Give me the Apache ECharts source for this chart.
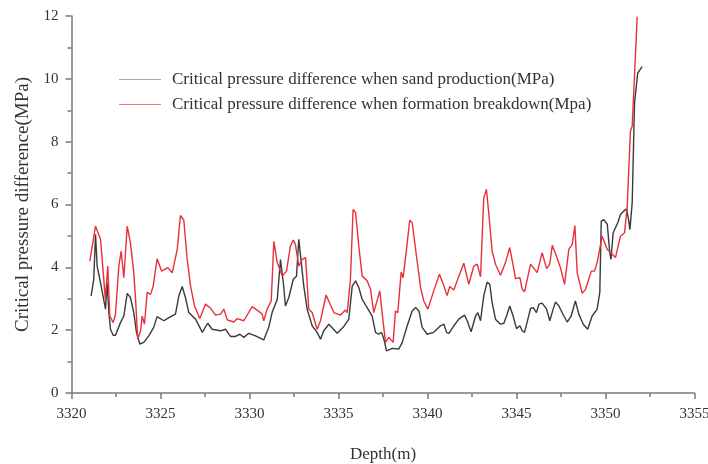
<!DOCTYPE html>
<html>
<head>
<meta charset="utf-8">
<script src="https://cdn.jsdelivr.net/npm/echarts@6/dist/echarts.min.js"></script>
<style>
  html, body { margin: 0; padding: 0; background: #fff; }
  #chart { width: 708px; height: 464px; }
</style>
</head>
<body>
<div id="chart"></div>
<script>
// 数据：深度 (m) 与临界压差 (MPa)
const sandDepth = [
  3321.1, 3321.25, 3321.35, 3321.44, 3321.63, 3321.91, 3322.0, 3322.1, 3322.19, 3322.34,
  3322.47, 3322.75, 3322.94, 3323.13, 3323.31, 3323.5, 3323.65, 3323.84, 3324.06, 3324.34,
  3324.62, 3324.81, 3325.19, 3325.47, 3325.84, 3326.03, 3326.22, 3326.4, 3326.59, 3326.97,
  3327.35, 3327.65, 3327.9, 3328.37, 3328.65, 3328.93, 3329.21, 3329.46, 3329.68, 3329.96,
  3330.34, 3330.8, 3331.08, 3331.27, 3331.56, 3331.74, 3331.9, 3332.02, 3332.21, 3332.46,
  3332.64, 3332.77, 3332.87, 3333.05, 3333.24, 3333.52, 3333.8, 3333.99, 3334.17, 3334.46,
  3334.93, 3335.3, 3335.58, 3335.77, 3335.96, 3336.14, 3336.33, 3336.61, 3336.89, 3337.08,
  3337.26, 3337.42, 3337.55, 3337.7, 3338.02, 3338.39, 3338.58, 3338.86, 3339.14, 3339.33,
  3339.52, 3339.7, 3339.98, 3340.35, 3340.73, 3340.92, 3341.07, 3341.2, 3341.48, 3341.76,
  3342.08, 3342.23, 3342.45, 3342.7, 3342.82, 3342.98, 3343.16, 3343.35, 3343.5, 3343.63,
  3343.82, 3344.1, 3344.29, 3344.44, 3344.62, 3344.81, 3345.0, 3345.19, 3345.32, 3345.45,
  3345.64, 3345.79, 3345.94, 3346.12, 3346.26, 3346.44, 3346.69, 3346.87, 3347.06, 3347.19,
  3347.38, 3347.66, 3347.85, 3348.07, 3348.31, 3348.5, 3348.75, 3349.0, 3349.25, 3349.53,
  3349.68, 3349.76, 3349.9, 3350.1, 3350.24, 3350.31, 3350.43, 3350.56, 3350.69, 3350.84,
  3351.03, 3351.18, 3351.31, 3351.37, 3351.5, 3351.63, 3351.81, 3352.06
];
const sandValues = [
  3.09, 3.62, 5.05, 4.04, 3.51, 2.67, 3.51, 2.56, 2.03, 1.84,
  1.84, 2.24, 2.45, 3.17, 3.04, 2.56, 1.93, 1.56, 1.61, 1.82,
  2.09, 2.43, 2.30, 2.40, 2.51, 3.09, 3.39, 3.04, 2.56, 2.35,
  1.93, 2.22, 2.03, 1.98, 2.03, 1.80, 1.80, 1.87, 1.77, 1.90,
  1.82, 1.69, 2.09, 2.56, 2.98, 4.25, 3.51, 2.77, 3.04, 3.62,
  3.72, 4.89, 4.94, 3.40, 2.67, 2.14, 1.93, 1.71, 1.98, 2.19,
  1.90, 2.12, 2.35, 3.40, 3.57, 3.36, 2.98, 2.72, 2.45, 1.93,
  1.87, 1.93, 1.71, 1.34, 1.42, 1.40, 1.61, 2.14, 2.61, 2.72,
  2.61, 2.09, 1.87, 1.93, 2.14, 2.19, 1.93, 1.90, 2.14, 2.35,
  2.48, 2.30, 1.95, 2.45, 2.56, 2.30, 3.09, 3.53, 3.46, 2.88,
  2.35, 2.19, 2.22, 2.45, 2.77, 2.45, 2.05, 2.14, 1.98, 1.93,
  2.35, 2.69, 2.72, 2.56, 2.83, 2.86, 2.67, 2.30, 2.67, 2.90,
  2.77, 2.45, 2.26, 2.45, 2.93, 2.51, 2.19, 2.03, 2.45, 2.67,
  3.20, 5.47, 5.52, 5.37, 4.47, 4.25, 5.10, 5.26, 5.42, 5.68,
  5.79, 5.86, 5.47, 5.20, 6.05, 9.23, 10.18, 10.39
];

const breakDepth = [
  3321.03, 3321.35, 3321.45, 3321.63, 3321.8, 3321.9, 3322.04, 3322.15, 3322.34, 3322.47,
  3322.66, 3322.79, 3322.94, 3323.13, 3323.31, 3323.5, 3323.6, 3323.72, 3323.88, 3323.97,
  3324.1, 3324.25, 3324.44, 3324.59, 3324.81, 3325.06, 3325.41, 3325.66, 3325.94, 3326.12,
  3326.31, 3326.5, 3326.69, 3326.91, 3327.21, 3327.53, 3327.81, 3328.09, 3328.37, 3328.56,
  3328.75, 3329.12, 3329.31, 3329.68, 3330.15, 3330.43, 3330.71, 3330.8, 3330.99, 3331.22,
  3331.37, 3331.56, 3331.84, 3332.08, 3332.3, 3332.46, 3332.58, 3332.77, 3332.96, 3333.15,
  3333.33, 3333.52, 3333.8, 3333.99, 3334.3, 3334.74, 3335.11, 3335.39, 3335.49, 3335.67,
  3335.82, 3335.96, 3336.14, 3336.33, 3336.61, 3336.8, 3336.98, 3337.32, 3337.45, 3337.64,
  3337.83, 3337.92, 3338.07, 3338.2, 3338.33, 3338.52, 3338.63, 3338.82, 3339.0, 3339.14,
  3339.38, 3339.61, 3339.79, 3340.02, 3340.35, 3340.67, 3340.92, 3341.1, 3341.25, 3341.48,
  3341.76, 3342.04, 3342.32, 3342.6, 3342.79, 3342.98, 3343.16, 3343.31, 3343.44, 3343.63,
  3343.82, 3344.1, 3344.38, 3344.62, 3344.85, 3344.94, 3345.19, 3345.32, 3345.45, 3345.79,
  3346.16, 3346.44, 3346.69, 3346.87, 3347.01, 3347.19, 3347.47, 3347.7, 3347.94, 3348.13,
  3348.28, 3348.41, 3348.69, 3348.88, 3349.2, 3349.38, 3349.53, 3349.81, 3350.1, 3350.28,
  3350.56, 3350.84, 3351.07, 3351.22, 3351.4, 3351.5, 3351.78
];
const breakValues = [
  4.20, 5.31, 5.29, 4.89, 3.72, 2.98, 4.04, 2.45, 2.24, 2.50,
  4.04, 4.52, 3.67, 5.31, 4.78, 3.83, 2.98, 1.71, 1.98, 2.45,
  2.19, 3.20, 3.14, 3.40, 4.27, 3.88, 3.99, 3.83, 4.57, 5.65,
  5.50, 4.25, 3.40, 2.77, 2.37, 2.83, 2.70, 2.48, 2.51, 2.67,
  2.33, 2.26, 2.37, 2.30, 2.75, 2.64, 2.51, 2.30, 2.67, 2.93,
  4.83, 4.15, 3.72, 3.88, 4.68, 4.87, 4.73, 4.04, 4.25, 4.31,
  2.67, 2.56, 2.03, 2.30, 3.12, 2.56, 2.48, 2.64, 2.56, 3.62,
  5.84, 5.74, 4.68, 3.72, 3.57, 3.30, 2.56, 3.25, 2.56, 1.61,
  1.77, 1.82, 1.61, 2.61, 2.56, 3.85, 3.67, 4.57, 5.50, 5.42,
  4.36, 3.36, 2.93, 2.67, 3.25, 3.78, 3.41, 3.10, 3.39, 3.28,
  3.72, 4.13, 3.46, 4.04, 4.10, 3.70, 6.21, 6.48, 5.74, 4.52,
  4.10, 3.75, 4.15, 4.63, 3.94, 3.64, 3.67, 3.30, 3.22, 4.10,
  3.83, 4.47, 3.96, 4.10, 4.70, 4.44, 3.99, 3.46, 4.57, 4.73,
  5.33, 3.83, 3.17, 3.30, 3.88, 3.88, 4.15, 4.99, 4.57, 4.47,
  4.31, 4.99, 5.10, 5.95, 8.33, 8.49, 11.98
];

const seriesNames = [
  'Critical pressure difference when sand production(MPa)',
  'Critical pressure difference when formation breakdown(Mpa)'
];

const zip = (xs, ys) => xs.map((x, i) => [x, ys[i]]);

const serif = '"Liberation Serif", "DejaVu Serif", serif';
const axisGray = '#7a7a7a';

const chart = echarts.init(document.getElementById('chart'));
chart.setOption({
  animation: false,
  backgroundColor: '#fff',
  textStyle: { fontFamily: serif },
  grid: { left: 71.5, right: 13.5, top: 16, bottom: 71, containLabel: false, outerBoundsMode: 'none' },
  legend: {
    left: 119,
    top: 71,
    padding: 0,
    orient: 'vertical',
    icon: 'rect',
    itemWidth: 42,
    itemHeight: 1.2,
    itemGap: 8,
    textStyle: { fontFamily: serif, fontSize: 17, color: '#333', padding: [0, 0, 0, 6] },
    data: [
      { name: seriesNames[0], itemStyle: { color: '#a8a8a8', borderWidth: 0 }, lineStyle: { color: '#a8a8a8' } },
      { name: seriesNames[1], itemStyle: { color: '#f27a7a', borderWidth: 0 }, lineStyle: { color: '#f27a7a' } }
    ]
  },
  xAxis: {
    type: 'value',
    min: 3320,
    max: 3355,
    interval: 5,
    name: 'Depth(m)',
    nameLocation: 'middle',
    nameGap: 53,
    nameTextStyle: { fontFamily: serif, fontSize: 17, color: '#333' },
    axisLine: { show: true, onZero: false, lineStyle: { color: axisGray, width: 1.5 } },
    axisTick: { show: true, inside: false, length: 6, lineStyle: { color: axisGray, width: 1.5 } },
    minorTick: { show: true, splitNumber: 2, length: 4, lineStyle: { color: axisGray, width: 1.5 } },
    splitLine: { show: false },
    axisLabel: { fontFamily: serif, fontSize: 15, color: '#333', margin: 14, formatter: v => String(v) }
  },
  yAxis: {
    type: 'value',
    min: 0,
    max: 12,
    interval: 2,
    name: 'Critical pressure difference(MPa)',
    nameLocation: 'middle',
    nameGap: 37,
    nameTextStyle: { fontFamily: serif, fontSize: 19, color: '#333' },
    axisLine: { show: true, onZero: false, lineStyle: { color: axisGray, width: 1.5 } },
    axisTick: { show: true, inside: false, length: 6, lineStyle: { color: axisGray, width: 1.5 } },
    minorTick: { show: true, splitNumber: 2, length: 4, lineStyle: { color: axisGray, width: 1.5 } },
    splitLine: { show: false },
    axisLabel: { fontFamily: serif, fontSize: 15, color: '#333', margin: 13 }
  },
  series: [
    {
      name: seriesNames[0],
      type: 'line',
      data: zip(sandDepth, sandValues),
      showSymbol: false,
      symbol: 'none',
      color: '#3a3a3a',
      lineStyle: { color: '#3a3a3a', width: 1.4 },
      z: 2
    },
    {
      name: seriesNames[1],
      type: 'line',
      data: zip(breakDepth, breakValues),
      showSymbol: false,
      symbol: 'none',
      color: '#e8303a',
      lineStyle: { color: '#e8303a', width: 1.4 },
      z: 3
    }
  ]
});
</script>
</body>
</html>
